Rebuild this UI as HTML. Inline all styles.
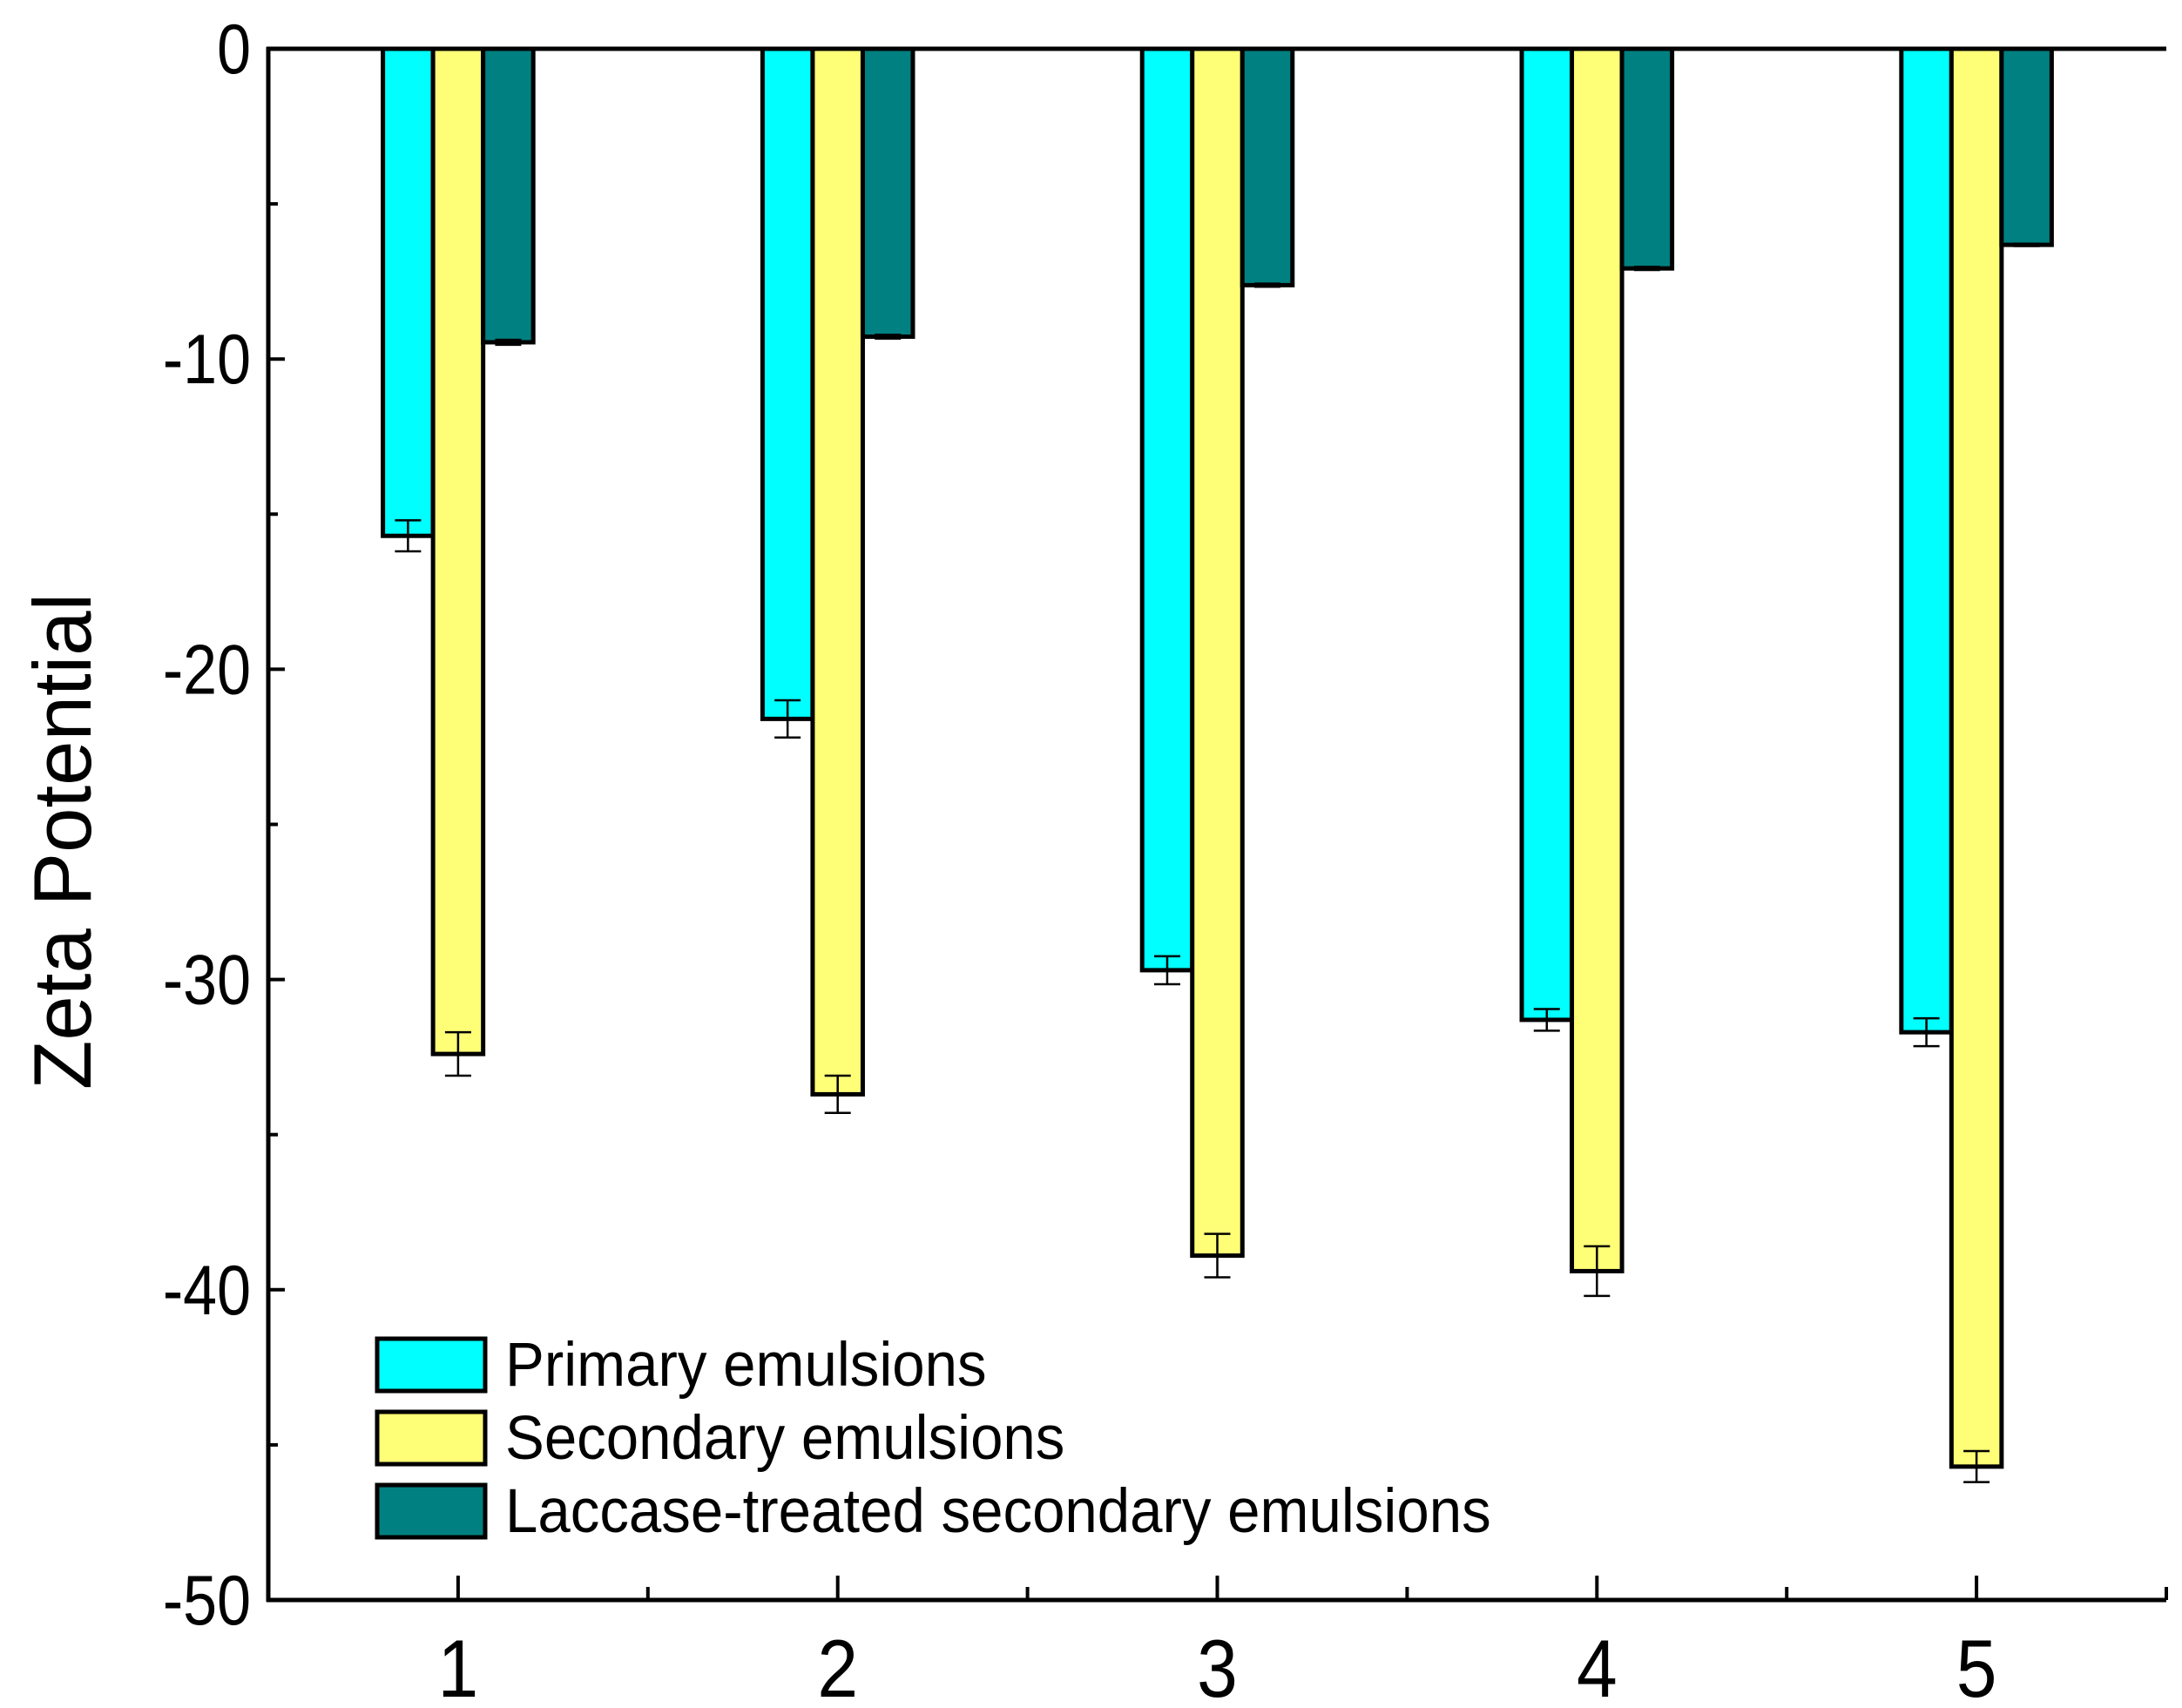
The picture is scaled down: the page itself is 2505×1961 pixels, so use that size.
<!DOCTYPE html>
<html><head><meta charset="utf-8"><style>
html,body{margin:0;padding:0;background:#fff;}
svg{display:block;font-family:"Liberation Sans",Arial,sans-serif;}
</style></head><body>
<svg id="chart" width="2505" height="1961" viewBox="0 0 2505 1961" xmlns="http://www.w3.org/2000/svg">
<g id="bars"></g>
<g id="axes"></g>
<g id="legend"></g>
</svg>
<script>
const categories = [1, 2, 3, 4, 5];
const primary = [-15.7, -21.6, -29.7, -31.3, -31.7];
const primaryErr = [0.5, 0.6, 0.45, 0.35, 0.45];
const secondary = [-32.4, -33.7, -38.9, -39.4, -45.7];
const secondaryErr = [0.7, 0.6, 0.7, 0.8, 0.5];
const laccase = [-9.46, -9.28, -7.62, -7.08, -6.32];
const laccaseErr = [0.08, 0.06, 0.05, 0.05, 0.04];
const yTicks = [0, -10, -20, -30, -40, -50];
const seriesNames = ["Primary emulsions", "Secondary emulsions", "Laccase-treated secondary emulsions"];

const NS = "http://www.w3.org/2000/svg";
const L = 308, R = 2487, T = 56, B = 1837;
const xMin = 0.5, xMax = 5.5, yMin = -50, yMax = 0;
function xs(v){ return L + (v - xMin) / (xMax - xMin) * (R - L); }
function ys(v){ return T + (yMax - v) / (yMax - yMin) * (B - T); }
function mk(tag, attrs, parent){
  const e = document.createElementNS(NS, tag);
  for (const k in attrs) e.setAttribute(k, attrs[k]);
  parent.appendChild(e); return e;
}
const bars = document.getElementById('bars');
const axes = document.getElementById('axes');
const legend = document.getElementById('legend');
const colors = ["#00FFFF", "#FFFF77", "#008080"];
const series = [primary, secondary, laccase];
const errs = [primaryErr, secondaryErr, laccaseErr];
const barW = (xs(1) - xs(0)) * 0.132;
const keys = ["primary", "secondary", "laccase"];

series.forEach((vals, si) => {
  vals.forEach((v, i) => {
    const cx = xs(categories[i]) + (si - 1) * barW;
    const y0 = ys(0), y1 = ys(v);
    const r = mk('rect', {x: cx - barW/2, y: y0, width: barW, height: y1 - y0, fill: colors[si], stroke: '#000', 'stroke-width': 5}, bars);
    
    
    const e = errs[si][i];
    const g = mk('g', {stroke: '#000', 'stroke-width': 2.5}, bars);
    
    
    mk('line', {x1: cx, x2: cx, y1: ys(v + e), y2: ys(v - e)}, g);
    mk('line', {x1: cx - 15, x2: cx + 15, y1: ys(v + e), y2: ys(v + e)}, g);
    mk('line', {x1: cx - 15, x2: cx + 15, y1: ys(v - e), y2: ys(v - e)}, g);
  });
});

const axL = mk('line', {x1: L, x2: L, y1: T - 2, y2: B + 2, stroke: '#000', 'stroke-width': 5}, axes);


const axB = mk('line', {x1: L - 2, x2: R, y1: B, y2: B, stroke: '#000', 'stroke-width': 5}, axes);


const axT = mk('line', {x1: L - 2, x2: R, y1: T, y2: T, stroke: '#000', 'stroke-width': 5}, axes);



for (let v = 0; v >= -50; v -= 5) {
  const major = v % 10 === 0;
  mk('line', {x1: L, x2: L + (major ? 19 : 11), y1: ys(v), y2: ys(v), stroke: '#000', 'stroke-width': 4}, axes);
}
yTicks.forEach(v => {
  const t = mk('text', {x: 0, y: 0, 'text-anchor': 'end', 'font-size': 70, transform: 'translate(288,' + (ys(v) + 28) + ') scale(1,1.15)'}, axes);
  t.textContent = v;
  
  
});
for (let v = 1; v <= 5.5; v += 0.5) {
  const major = Number.isInteger(v);
  mk('line', {x1: xs(v), x2: xs(v), y1: B, y2: B - (major ? 28 : 15), stroke: '#000', 'stroke-width': 4}, axes);
}
categories.forEach(c => {
  const t = mk('text', {x: 0, y: 0, 'text-anchor': 'middle', 'font-size': 84, transform: 'translate(' + xs(c) + ',1948) scale(1,1.12)'}, axes);
  t.textContent = c;
  
  
});
const yt = mk('text', {x: 0, y: 0, 'text-anchor': 'middle', 'font-size': 84, transform: 'translate(104,966) rotate(-90) scale(1.1,1.12)'}, axes);
yt.textContent = 'Zeta Potential';



const lgY = [1537, 1621, 1705];
seriesNames.forEach((n, i) => {
  const g = mk('g', {}, legend);
  
  
  mk('rect', {x: 433, y: lgY[i], width: 124, height: 60, fill: colors[i], stroke: '#000', 'stroke-width': 5}, g);
  const t = mk('text', {x: 0, y: 0, 'font-size': 64, transform: 'translate(580,' + (lgY[i] + 54) + ') scale(1.05,1.12)'}, g);
  t.textContent = n;
});
</script>
</body></html>
